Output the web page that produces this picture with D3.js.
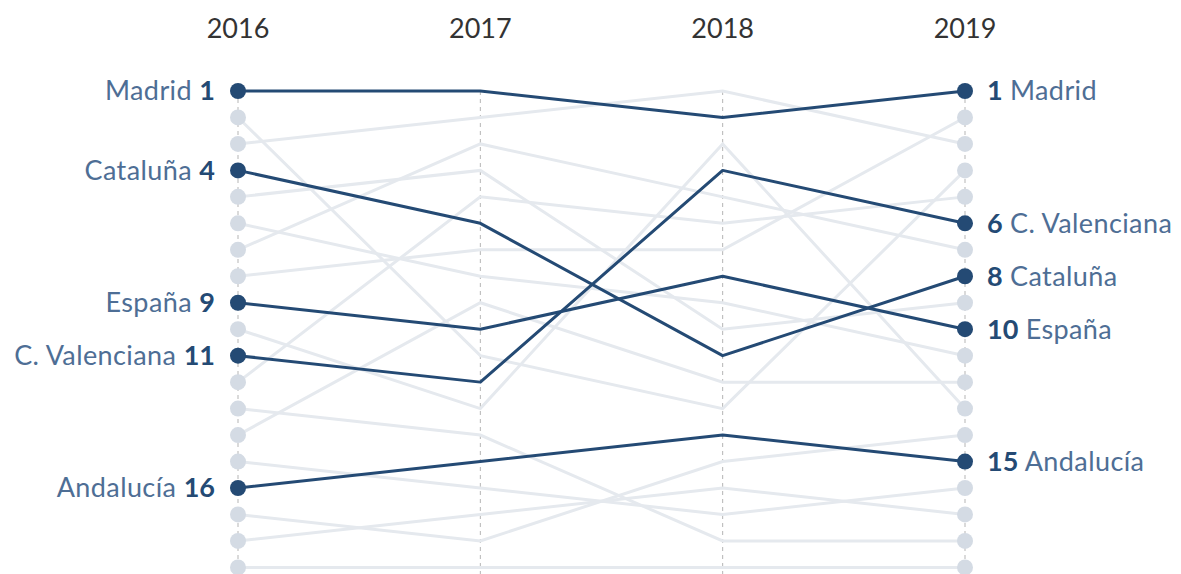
<!DOCTYPE html>
<html>
<head>
<meta charset="utf-8">
<script src="https://cdn.jsdelivr.net/npm/d3@7"></script>
<style>
  body { margin: 0; background: #fff; }
  svg { display: block; font-family: Lato, 'Noto Sans', sans-serif; }
</style>
</head>
<body>
<svg width="1181" height="574"></svg>
<script>
// ranks per year, one row per territory (grey ones are not labelled)
const years = ['2016', '2017', '2018', '2019']
const names = ['Madrid', 'otra-a', 'otra-b', 'Cataluña', 'otra-c', 'otra-d', 'otra-e', 'otra-f',
  'España', 'otra-g', 'C. Valenciana', 'otra-h', 'otra-i', 'otra-j', 'otra-k', 'Andalucía',
  'otra-l', 'otra-m', 'otra-n', 'otra-o']
const rank2016 = [1, 2, 3, 4, 5, 6, 7, 8, 9, 10, 11, 12, 13, 14, 15, 16, 17, 18, 19, 20]
const rank2017 = [1, 11, 2, 6, 4, 8, 3, 7, 10, 13, 12, 5, 14, 9, 16, 15, 18, 17, 19, 20]
const rank2018 = [2, 13, 1, 11, 10, 9, 5, 7, 8, 3, 4, 6, 18, 12, 17, 14, 15, 16, 19, 20]
const rank2019 = [1, 4, 3, 8, 9, 11, 7, 2, 10, 13, 6, 5, 18, 12, 16, 15, 14, 17, 19, 20]
const highlighted = ['Madrid', 'Cataluña', 'España', 'C. Valenciana', 'Andalucía']

document.addEventListener('DOMContentLoaded', () => {
    const svg = d3.select('svg')
    const height = +svg.attr('height')

    const dark = '#244a74'
    const labelColor = '#4e6e95'

    const data = names.map((n, i) => ({
        name: n,
        ranks: [rank2016[i], rank2017[i], rank2018[i], rank2019[i]],
        hi: highlighted.includes(n)
    }))

    const x = d3.scalePoint().domain(years).range([238, 965])
    const y = d3.scaleLinear().domain([1, 16]).range([91, 488])

    const line = d3.line()
        .x((d, i) => x(years[i]))
        .y(d => y(d))

    // year headers
    svg.selectAll('.year').data(years)
        .enter().append('text')
            .attr('x', d => x(d))
            .attr('y', 38)
            .attr('text-anchor', 'middle')
            .attr('fill', '#333')
            .attr('font-size', 27)
            .text(d => d)

    // dashed guides
    svg.selectAll('.guide').data(years)
        .enter().append('line')
            .attr('x1', d => x(d)).attr('x2', d => x(d))
            .attr('y1', y(1)).attr('y2', height)
            .attr('stroke', '#b5b5b5')
            .attr('stroke-width', 1)
            .attr('stroke-dasharray', '4,4')

    const grey = data.filter(d => !d.hi)
    const hi = data.filter(d => d.hi)

    svg.append('g').selectAll('path').data(grey)
        .enter().append('path')
            .attr('d', d => line(d.ranks))
            .attr('fill', 'none')
            .attr('stroke', '#e5e9ee')
            .attr('stroke-width', 3)

    // dots on the first and last year
    const ends = [0, 3]
    ends.forEach(k => {
        svg.append('g').selectAll('circle').data(grey)
            .enter().append('circle')
                .attr('cx', x(years[k]))
                .attr('cy', d => y(d.ranks[k]))
                .attr('r', 8)
                .attr('fill', '#d4dbe4')
    })

    svg.append('g').selectAll('path').data(hi)
        .enter().append('path')
            .attr('d', d => line(d.ranks))
            .attr('fill', 'none')
            .attr('stroke', dark)
            .attr('stroke-width', 3)
            .attr('stroke-linejoin', 'round')

    ends.forEach(k => {
        svg.append('g').selectAll('circle').data(hi)
            .enter().append('circle')
                .attr('cx', x(years[k]))
                .attr('cy', d => y(d.ranks[k]))
                .attr('r', 8)
                .attr('fill', dark)
    })

    // labels left
    const left = svg.append('g').selectAll('text').data(hi)
        .enter().append('text')
            .attr('x', x(years[0]) - 23)
            .attr('y', d => y(d.ranks[0]))
            .attr('dy', '0.35em')
            .attr('text-anchor', 'end')
            .attr('font-size', 27)
    left.append('tspan').attr('fill', labelColor).attr('letter-spacing', 0.4).text(d => d.name + ' ')
    left.append('tspan').attr('fill', dark).attr('font-weight', 'bold').text(d => d.ranks[0])

    // labels right
    const right = svg.append('g').selectAll('text').data(hi)
        .enter().append('text')
            .attr('x', x(years[3]) + 22)
            .attr('y', d => y(d.ranks[3]))
            .attr('dy', '0.35em')
            .attr('font-size', 27)
    right.append('tspan').attr('fill', dark).attr('font-weight', 'bold').text(d => d.ranks[3])
    right.append('tspan').attr('fill', labelColor).attr('letter-spacing', 0.4).text(d => ' ' + d.name)
})
</script>
</body>
</html>
